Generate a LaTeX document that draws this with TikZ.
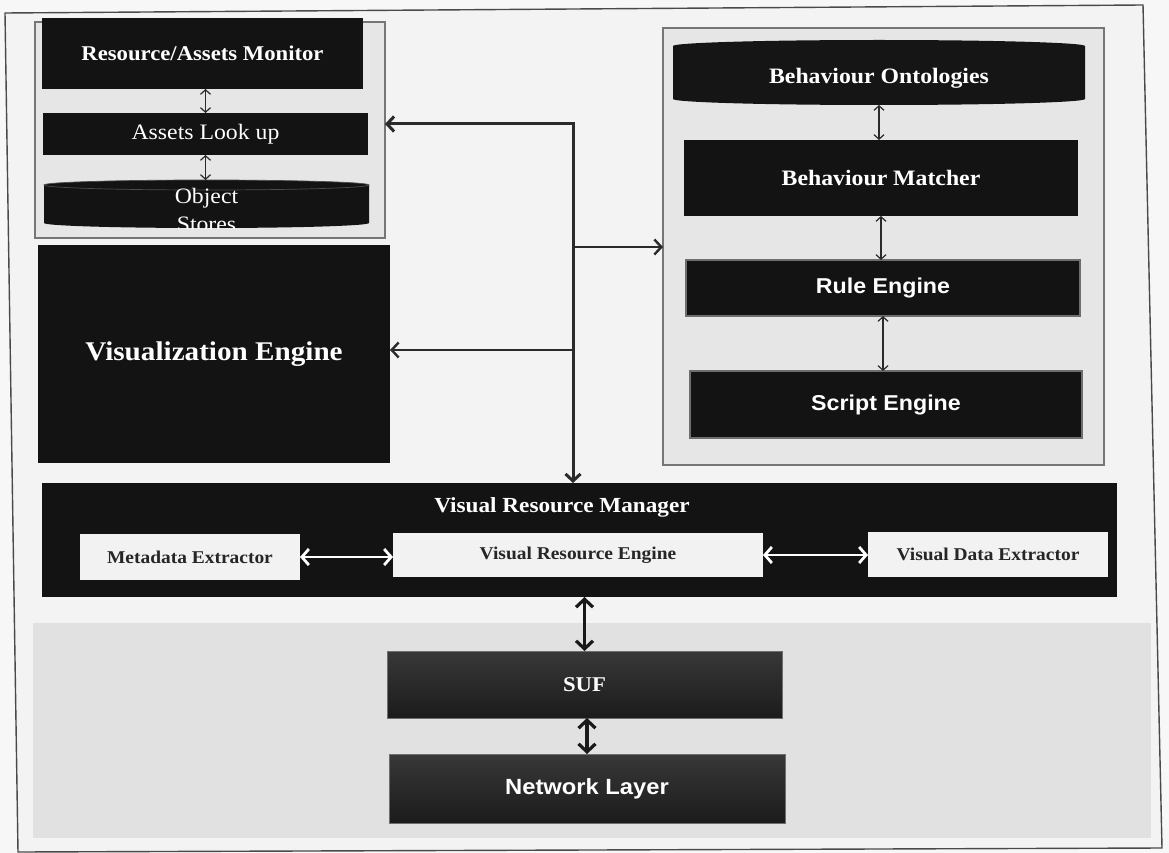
\documentclass[tikz,border=0pt]{standalone}
\usepackage{fontspec}
\setmainfont{Liberation Serif}[FakeStretch=1.08]
\newfontfamily\arialfont{Liberation Sans}[FakeStretch=1.08]
\usetikzlibrary{arrows.meta,calc}

\definecolor{pagebg}{HTML}{F7F7F7}
\definecolor{framebg}{HTML}{F3F3F3}
\definecolor{frameline}{HTML}{4A4A4A}
\definecolor{groupbg}{HTML}{E6E6E6}
\definecolor{groupline}{HTML}{767676}
\definecolor{boxdark}{HTML}{131313}
\definecolor{drumtop}{HTML}{151515}
\definecolor{drummid}{HTML}{3A3A3A}
\definecolor{bandgrey}{HTML}{474747}
\definecolor{edgegrey}{HTML}{6E6E6E}
\definecolor{lowbg}{HTML}{E1E1E1}
\definecolor{lowtop}{HTML}{383838}
\definecolor{lowbot}{HTML}{1B1B1B}
\definecolor{lightfill}{HTML}{F2F2F2}
\definecolor{inktext}{HTML}{262626}
\definecolor{linkgrey}{HTML}{2A2A2A}

\tikzset{
  box/.style={rectangle, inner sep=0pt, outer sep=0pt},
  darkbox/.style={box, fill=boxdark, text=white},
  groupbox/.style={box, fill=groupbg, draw=groupline, line width=2pt},
  lightbox/.style={box, fill=lightfill, text=inktext,
    font=\bfseries\fontsize{18}{20}\selectfont},
  lowbox/.style={box, top color=lowtop, bottom color=lowbot, draw=edgegrey,
    line width=0.8pt, text=white},
  serifbold/.style={font=\bfseries\fontsize{#1}{#1}\selectfont},
  sansbold/.style={font=\arialfont\bfseries\fontsize{#1}{#1}\selectfont},
  link/.style={draw=linkgrey, line width=1.2pt,
    {Straight Barb[length=4.5pt,width=10pt]}-{Straight Barb[length=4.5pt,width=10pt]}},
  trunk/.style={draw=linkgrey, line width=3pt, line join=miter,
    {Straight Barb[length=7pt,width=15pt]}-{Straight Barb[length=7pt,width=15pt]}},
  branch/.style={draw=linkgrey, line width=2.4pt,
    -{Straight Barb[length=7pt,width=15pt]}},
  busarrow/.style={draw=black!90, line width=3.2pt,
    {Straight Barb[length=8pt,width=17pt]}-{Straight Barb[length=8pt,width=17pt]}},
  whitearrow/.style={draw=white, line width=2.8pt,
    {Straight Barb[length=7pt,width=16pt]}-{Straight Barb[length=7pt,width=16pt]}},
  drumrim/.style={draw=black!70, line width=0.7pt},
}

\begin{document}
\begin{tikzpicture}[x=1pt,y=-1pt]
\useasboundingbox (0,0) rectangle (1169,853);
\fill[pagebg] (0,0) rectangle (1169,853);

% outer frame and lower shaded band
\draw[frameline, line width=1.4pt, fill=framebg]
  (5,13) -- (1143,5) -- (1162,848) -- (18,852) -- cycle;
\fill[lowbg] (33,623) rectangle (1151,838);

% ---------------- left group: resource monitor ----------------
\node[groupbox, minimum width=350pt, minimum height=216pt] (grpL) at (210,130) {};
\node[darkbox, serifbold=21, minimum width=321pt, minimum height=71pt]
  (ram) at (202.5,53.5) {Resource/Assets Monitor};
\node[darkbox, font=\fontsize{22}{24}\selectfont, minimum width=325pt, minimum height=42pt]
  (alu) at (205.5,134) {Assets Look up};

% object store drum
\fill[boxdark] (44,185) arc[start angle=180,end angle=0,x radius=162.5pt,y radius=5pt]
  -- (369,223) arc[start angle=0,end angle=-180,x radius=162.5pt,y radius=5pt] -- cycle;
\draw[drumrim] (206.5,185) ellipse[x radius=162.5pt,y radius=5pt];
\node[box, minimum width=325pt, minimum height=48pt] (obj) at (206.5,204) {};
\begin{scope}
  \clip (44,175) rectangle (369,228);
  \node[box, text=white, align=center, font=\fontsize{22}{28}\selectfont]
    (objlabel) at (206.5,210) {Object\\Stores};
\end{scope}

\draw[link] (ram.south -| alu.north) -- (alu.north);
\draw[link] (alu.south) -- (alu.south |- obj.north);

% ---------------- right group: behaviour ----------------
\node[groupbox, minimum width=441pt, minimum height=437pt] (grpR) at (883.5,246.5) {};

\shade[top color=drumtop, middle color=drummid, bottom color=drumtop]
  (673,46) arc[start angle=180,end angle=0,x radius=206pt,y radius=6pt]
  -- (1085,99) arc[start angle=0,end angle=-180,x radius=206pt,y radius=6pt] -- cycle;
\node[box, minimum width=412pt, minimum height=65pt] (bo) at (879,72.5) {};
\node[box, text=white, serifbold=22] (bolabel) at (879,78) {Behaviour Ontologies};

\node[darkbox, serifbold=22, minimum width=394pt, minimum height=76pt]
  (bm) at (881,178) {Behaviour Matcher};
\node[box, top color=boxdark, middle color=bandgrey, bottom color=boxdark,
  draw=edgegrey, line width=1.5pt, text=white, sansbold=21.5,
  minimum width=394pt, minimum height=56pt] (re) at (883,288) {Rule Engine};
\node[darkbox, draw=edgegrey, line width=1.5pt, sansbold=21.5,
  minimum width=392pt, minimum height=67pt] (se) at (886,404.5) {Script Engine};

\draw[link] (bo.south) -- (bo.south |- bm.north);
\draw[link] (bm.south) -- (bm.south |- re.north);
\draw[link] (re.south) -- (re.south |- se.north);

% ---------------- visualization engine ----------------
\node[darkbox, serifbold=27, minimum width=352pt, minimum height=218pt]
  (ve) at (214,354) {Visualization Engine};

% ---------------- visual resource manager ----------------
\node[darkbox, minimum width=1075pt, minimum height=114pt] (vrm) at (579.5,540) {};
\node[box, text=white, serifbold=21.5] (vrmtitle) at (562,507) {Visual Resource Manager};
\node[lightbox, minimum width=220pt, minimum height=46pt] (mde) at (190,557) {Metadata Extractor};
\node[lightbox, minimum width=370pt, minimum height=44pt] (vre) at (578,555) {Visual Resource Engine};
\node[lightbox, minimum width=240pt, minimum height=45pt] (vde) at (988,554.5) {Visual Data Extractor};

\draw[whitearrow] (mde.east) -- (mde.east -| vre.west);
\draw[whitearrow] (vre.east) -- (vre.east -| vde.west);

% ---------------- central distribution connector ----------------
\coordinate (hub) at (573,124);
\coordinate (jR) at (574,247);
\coordinate (jV) at (575,350);
\draw[trunk] (grpL.east |- hub) -- (hub) -- (hub |- vrm.north);
\draw[branch] (jR) -- (jR -| grpR.west);
\draw[branch] (jV) -- (jV -| ve.east);

% ---------------- lower layers ----------------
\node[lowbox, serifbold=21, minimum width=395pt, minimum height=67pt]
  (suf) at (584.5,684.5) {SUF};
\node[lowbox, sansbold=22, minimum width=396pt, minimum height=69pt]
  (net) at (587,788.5) {Network Layer};

\draw[busarrow] (vrm.south -| suf.north) -- (suf.north);
\draw[busarrow] (suf.south -| net.north) -- (net.north);
\end{tikzpicture}
\end{document}
